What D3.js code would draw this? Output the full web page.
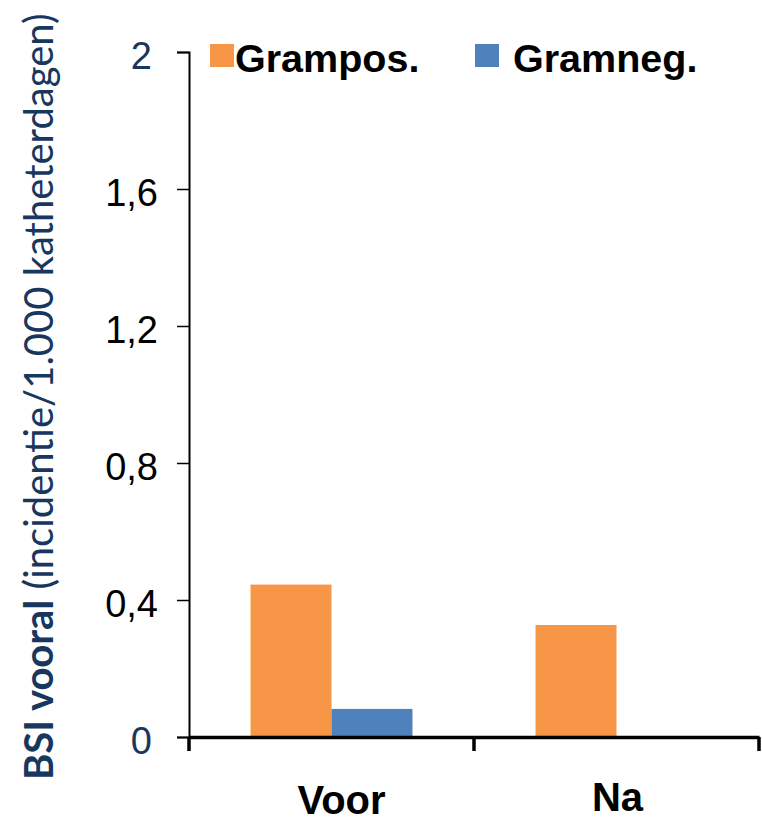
<!DOCTYPE html>
<html>
<head>
<meta charset="utf-8">
<script src="https://cdn.jsdelivr.net/npm/d3@7"></script>
<style>
  html, body { margin: 0; padding: 0; background: #fff; }
  svg { display: block; }
</style>
</head>
<body>
<div id="chart"></div>
<script>
// BSI incidence per 1,000 catheter days, before and after
const categories = ["Voor", "Na"];
const seriesNames = ["Grampos.", "Gramneg."];
const grampos = [0.445, 0.327];
const gramneg = [0.082, 0];
const yTicks = [0, 0.4, 0.8, 1.2, 1.6, 2];
const yTickLabels = ["0", "0,4", "0,8", "1,2", "1,6", "2"];

const colors = { "Grampos.": "#F79646", "Gramneg.": "#4F81BD" };
const navy = "#17375E";

const W = 762, H = 821;
const svg = d3.select("#chart").append("svg")
  .attr("width", W).attr("height", H);

const x0 = d3.scaleBand().domain(categories).range([189, 759]);
const x1 = d3.scaleBand().domain(seriesNames)
  .range([0, x0.bandwidth()]).paddingInner(0).paddingOuter(0.76);
const y = d3.scaleLinear().domain([0, 2]).range([737, 52]);

const rows = categories.map((c, i) => ({
  cat: c,
  vals: [
    { s: "Grampos.", v: grampos[i] },
    { s: "Gramneg.", v: gramneg[i] }
  ]
}));

// bars
const groups = svg.append("g").selectAll("g").data(rows).join("g")
  .attr("transform", d => `translate(${x0(d.cat)},0)`);
groups.selectAll("rect").data(d => d.vals.filter(e => e.v > 0)).join("rect")
  .attr("x", d => x1(d.s))
  .attr("width", x1.bandwidth())
  .attr("y", d => y(d.v))
  .attr("height", d => y(0) - y(d.v))
  .attr("fill", d => colors[d.s]);

// y axis
const yAxis = d3.axisLeft(y).tickValues(yTicks)
  .tickFormat((d, i) => yTickLabels[i]).tickSizeOuter(0).tickSize(12).tickPadding(19);
const gy = svg.append("g").attr("transform", "translate(189,0)").call(yAxis);
gy.select(".domain").attr("stroke", "#000").attr("stroke-width", 2);
gy.selectAll(".tick line").attr("stroke", "#000").attr("stroke-width", 1.5);
gy.selectAll(".tick text")
  .attr("font-family", "Liberation Sans, Arial, sans-serif")
  .attr("font-size", 38)
  .attr("dy", "0.44em")
  .attr("fill", d => (d === 0 || d === 2) ? navy : "#000")
  .attr("dx", d => (d === 0 || d === 2) ? -6 : 0);

// x axis
const xAxis = d3.axisBottom(x0).tickSize(0).tickFormat("");
const gx = svg.append("g").attr("transform", `translate(0,${y(0)})`).call(xAxis);
gx.select(".domain").attr("stroke", "#000").attr("stroke-width", 3.5);
// category boundary ticks
const bounds = [...categories.map(c => x0(c)), x0.range()[1]];
gx.selectAll("line.bound").data(bounds).join("line")
  .attr("class", "bound")
  .attr("x1", d => d).attr("x2", d => d)
  .attr("y1", 0).attr("y2", 14)
  .attr("stroke", "#000").attr("stroke-width", 3.5);

// category labels
const labelNudge = { "Voor": [10, 77], "Na": [1, 74] };
svg.append("g").selectAll("text").data(categories).join("text")
  .attr("x", d => x0(d) + x0.bandwidth() / 2 + labelNudge[d][0])
  .attr("y", d => y(0) + labelNudge[d][1])
  .attr("text-anchor", "middle")
  .attr("font-family", "Liberation Sans, Arial, sans-serif")
  .attr("font-weight", "bold")
  .attr("font-size", 40)
  .attr("fill", "#000")
  .text(d => d);

// legend
const legendPos = { "Grampos.": [210, 235], "Gramneg.": [475, 513] };
const lg = svg.append("g").selectAll("g").data(seriesNames).join("g");
lg.append("rect")
  .attr("x", d => legendPos[d][0]).attr("y", 44)
  .attr("width", 24).attr("height", 23)
  .attr("fill", d => colors[d]);
lg.append("text")
  .attr("x", d => legendPos[d][1]).attr("y", 72)
  .attr("font-family", "Liberation Sans, Arial, sans-serif")
  .attr("font-weight", "bold")
  .attr("font-size", 39.5)
  .attr("fill", "#000")
  .text(d => d);

// y axis title
const title = svg.append("text")
  .attr("transform", "translate(53,780) rotate(-90)")
  .attr("font-family", "Lato, 'Open Sans', sans-serif")
  .attr("font-size", 40)
  .attr("fill", navy);
title.append("tspan").attr("font-weight", "bold").text("BSI vooral");
title.append("tspan").text(" (incidentie/1.000 katheterdagen)");
</script>
</body>
</html>
